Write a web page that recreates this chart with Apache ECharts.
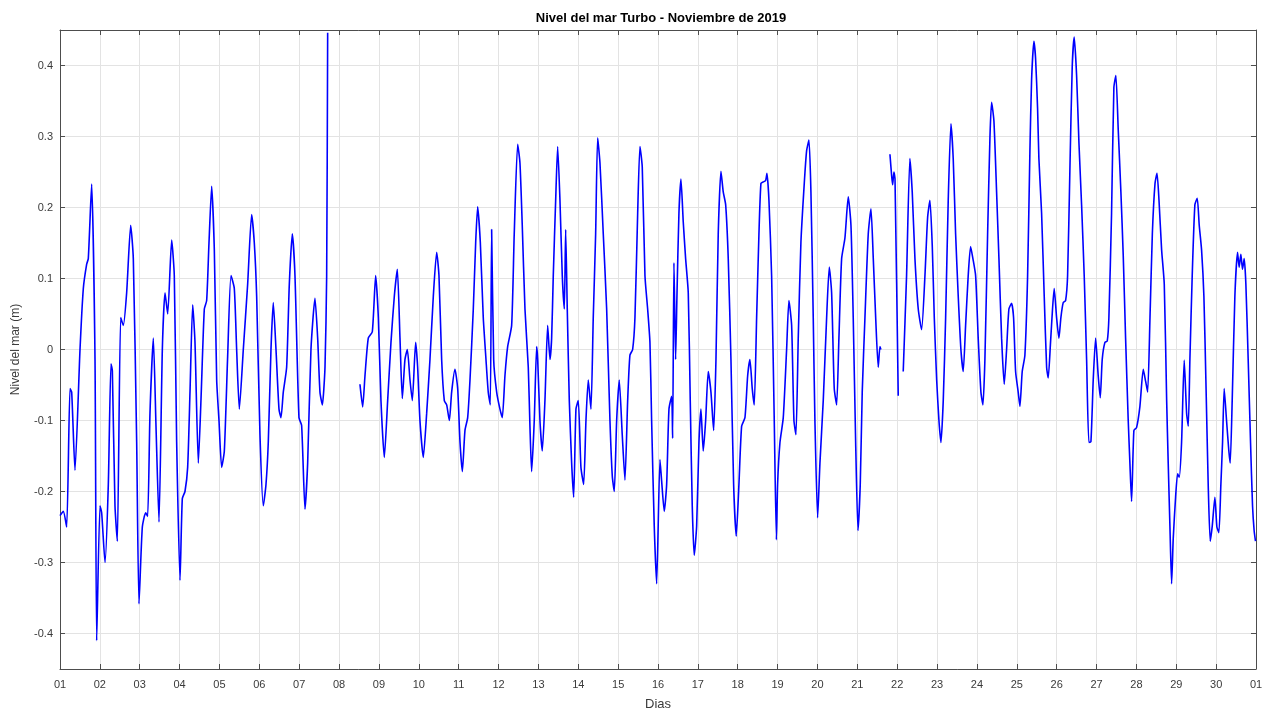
<!DOCTYPE html>
<html>
<head>
<meta charset="utf-8">
<title>Nivel del mar Turbo - Noviembre de 2019</title>
<script src="https://cdn.jsdelivr.net/npm/echarts@6/dist/echarts.min.js"></script>
<style>
  html, body { margin: 0; padding: 0; background: #ffffff; overflow: hidden; }
  #chart { width: 1271px; height: 716px; }
</style>
</head>
<body>
<div id="chart"></div>
<script>
// Day-of-month tick labels (the last tick is 1 December)
const dayLabels = ['01','02','03','04','05','06','07','08','09','10',
  '11','12','13','14','15','16','17','18','19','20',
  '21','22','23','24','25','26','27','28','29','30','01'];

// Time in days since the start of November (1.0 = 1 Nov 00:00); null level = no data
const dayTimes = [
  1.000,1.083,1.167,1.251,1.293,1.376,1.502,1.585,1.668,1.710,1.794,1.878,1.920,
  2.003,2.045,2.129,2.212,2.279,2.313,2.379,2.438,2.522,2.588,2.672,2.773,2.839,2.923,2.981,
  3.065,3.149,3.199,3.257,3.341,3.408,3.483,3.567,3.634,3.701,3.801,3.867,3.926,
  4.010,4.068,4.135,4.202,4.261,4.328,4.386,4.470,4.537,4.620,4.679,4.737,4.804,4.871,4.930,4.988,
  5.055,5.122,5.205,5.289,5.372,5.431,5.498,5.598,5.707,5.807,5.874,5.933,
  6.016,6.100,6.167,6.225,6.292,6.350,6.418,6.493,6.543,6.601,6.685,6.752,6.827,6.894,6.994,
  7.061,7.145,7.212,7.295,7.396,7.463,7.521,7.580,7.647,7.689,7.714,
  8.100,
  8.524,8.592,8.650,8.733,8.834,8.918,8.985,
  9.051,9.135,9.219,9.302,9.386,9.461,9.528,9.586,9.653,9.712,9.779,9.837,9.921,9.971,
  10.029,10.113,10.197,10.280,10.364,10.448,10.506,10.573,10.640,10.699,10.766,10.824,10.907,10.975,
  11.033,11.092,11.158,11.226,11.284,11.367,11.427,11.476,11.543,11.617,11.685,11.742,11.793,11.827,11.878,11.953,
  12.036,12.094,12.161,12.229,12.329,12.394,12.480,12.537,12.595,12.663,12.746,12.788,12.830,12.896,12.956,12.982,
  13.039,13.097,13.164,13.232,13.290,13.332,13.373,13.433,13.483,13.541,13.599,13.650,13.684,13.724,13.775,13.834,13.884,13.942,
  14.000,14.067,14.135,14.193,14.251,14.318,14.376,14.436,14.486,14.544,14.627,14.712,14.795,14.853,14.903,14.963,
  15.028,15.103,15.171,15.239,15.296,15.364,15.422,15.490,15.547,15.605,15.673,15.740,15.798,15.840,15.906,15.966,
  16.049,16.091,16.157,16.217,16.275,16.342,16.367,16.400,16.442,16.475,16.525,16.576,16.633,16.693,16.759,16.809,16.859,16.909,16.969,
  17.027,17.077,17.135,17.195,17.260,17.328,17.396,17.454,17.511,17.579,17.636,17.697,17.762,17.830,17.897,17.963,
  18.030,18.098,18.181,18.249,18.306,18.364,18.414,18.474,18.532,18.582,18.640,18.700,18.733,18.783,18.850,18.916,18.970,
  19.000,19.059,19.142,19.226,19.284,19.352,19.410,19.460,19.518,19.585,19.669,19.728,19.786,19.836,19.894,19.936,
  20.004,20.062,20.145,20.230,20.296,20.355,20.421,20.481,20.538,20.606,20.689,20.772,20.840,20.897,20.958,
  21.016,21.073,21.123,21.191,21.274,21.342,21.400,21.460,21.524,21.567,21.592,
  21.700,
  21.818,21.860,21.885,21.918,21.945,22.026,
  22.090,
  22.151,22.235,22.318,22.377,22.445,22.528,22.612,22.696,22.763,22.821,22.880,22.930,22.990,
  23.047,23.097,23.155,23.215,23.280,23.348,23.405,23.465,23.531,23.598,23.656,23.716,23.781,23.841,23.899,23.967,
  24.032,24.100,24.150,24.200,24.268,24.326,24.368,24.426,24.493,24.552,24.619,24.685,24.744,24.802,24.869,24.919,24.970,
  25.035,25.078,25.136,25.203,25.271,25.329,25.371,25.429,25.471,25.521,25.554,25.622,25.688,25.748,25.788,25.846,25.896,25.938,25.998,
  26.056,26.106,26.164,26.224,26.274,26.331,26.390,26.440,26.500,26.558,26.625,26.691,26.751,26.808,26.859,26.917,26.977,
  27.042,27.093,27.143,27.210,27.269,27.310,27.377,27.435,27.485,27.544,27.611,27.669,27.729,27.795,27.837,27.879,27.937,
  28.004,28.088,28.172,28.232,28.282,28.341,28.400,28.467,28.517,28.567,28.633,28.699,28.759,28.798,28.841,28.883,28.924,28.983,
  29.034,29.074,29.133,29.199,29.260,29.301,29.342,29.400,29.467,29.526,29.576,29.635,29.693,29.743,29.801,29.852,29.902,29.969,
  30.019,30.069,30.119,30.161,30.202,30.261,30.319,30.353,30.403,30.470,30.537,30.578,30.620,30.662,30.704,30.746,30.804,30.863,30.913,30.953,30.987
];

// Sea level (m)
const seaLevel = [
  -0.234,-0.228,-0.250,-0.055,-0.060,-0.170,0.000,0.086,0.120,0.128,0.233,-0.013,-0.410,
  -0.220,-0.230,-0.300,-0.190,-0.020,-0.030,-0.220,-0.270,0.045,0.034,0.080,0.175,0.128,-0.130,-0.358,
  -0.250,-0.230,-0.235,-0.090,0.016,-0.108,-0.243,0.000,0.080,0.050,0.154,0.104,-0.130,
  -0.325,-0.210,-0.200,-0.166,-0.060,0.063,0.010,-0.160,-0.070,0.057,0.069,0.150,0.230,0.140,-0.043,-0.100,
  -0.166,-0.143,-0.010,0.104,0.086,0.000,-0.084,0.000,0.092,0.190,0.150,0.075,
  -0.120,-0.220,-0.190,-0.130,0.000,0.066,0.000,-0.084,-0.096,-0.060,-0.025,0.092,0.163,0.104,-0.096,
  -0.107,-0.225,-0.160,0.000,0.072,0.016,-0.060,-0.078,-0.025,0.104,0.446,
  null,
  -0.049,-0.081,-0.037,0.016,0.025,0.104,0.045,
  -0.072,-0.152,-0.072,0.010,0.075,0.113,0.016,-0.069,-0.014,0.000,-0.043,-0.072,0.010,-0.025,
  -0.100,-0.152,-0.090,-0.014,0.075,0.137,0.104,-0.014,-0.072,-0.078,-0.100,-0.060,-0.028,-0.055,
  -0.130,-0.172,-0.114,-0.096,-0.043,0.057,0.151,0.201,0.151,0.045,-0.014,-0.060,-0.078,0.169,-0.014,-0.060,
  -0.084,-0.096,-0.037,0.004,0.034,0.163,0.289,0.263,0.175,0.057,-0.025,-0.108,-0.172,-0.100,0.004,-0.014,
  -0.100,-0.143,-0.072,0.034,-0.014,0.016,0.104,0.210,0.286,0.210,0.104,0.057,0.169,0.057,-0.072,-0.160,-0.208,-0.084,
  -0.072,-0.166,-0.190,-0.100,-0.043,-0.084,0.045,0.163,0.298,0.263,0.163,0.057,-0.100,-0.178,-0.200,-0.100,
  -0.043,-0.120,-0.184,-0.072,-0.008,0.000,0.045,0.192,0.286,0.257,0.104,0.057,0.010,-0.100,-0.249,-0.330,
  -0.155,-0.185,-0.228,-0.190,-0.084,-0.066,-0.125,0.122,-0.014,0.075,0.192,0.240,0.180,0.128,0.080,-0.072,-0.220,-0.290,-0.249,
  -0.131,-0.084,-0.143,-0.100,-0.031,-0.060,-0.114,-0.014,0.163,0.251,0.222,0.204,0.128,-0.014,-0.190,-0.263,
  -0.190,-0.108,-0.096,-0.037,-0.014,-0.055,-0.078,0.045,0.163,0.234,0.236,0.238,0.248,0.210,0.104,-0.100,-0.268,
  -0.190,-0.131,-0.096,0.000,0.069,0.034,-0.100,-0.120,0.016,0.151,0.234,0.280,0.295,0.222,0.045,-0.100,
  -0.237,-0.160,-0.072,0.045,0.116,0.080,-0.055,-0.078,0.016,0.128,0.157,0.215,0.175,0.045,-0.131,
  -0.255,-0.190,-0.060,0.045,0.163,0.198,0.128,0.045,-0.025,0.004,0.000,
  null,
  0.275,0.245,0.232,0.250,0.240,-0.065,
  null,
  -0.031,0.104,0.269,0.222,0.128,0.057,0.028,0.104,0.186,0.210,0.145,0.045,-0.043,
  -0.100,-0.131,-0.072,0.045,0.210,0.318,0.269,0.163,0.075,0.000,-0.031,0.034,0.104,0.145,0.128,0.104,
  0.016,-0.060,-0.078,-0.014,0.163,0.298,0.348,0.322,0.222,0.128,0.016,-0.049,0.000,0.057,0.065,0.045,-0.031,
  -0.060,-0.080,-0.031,-0.008,0.104,0.280,0.380,0.434,0.410,0.340,0.269,0.192,0.075,-0.025,-0.040,0.010,0.057,0.086,0.045,
  0.016,0.045,0.066,0.069,0.104,0.251,0.398,0.440,0.386,0.292,0.204,0.104,-0.014,-0.131,-0.130,-0.043,0.016,
  -0.037,-0.068,-0.014,0.010,0.012,0.045,0.192,0.369,0.386,0.310,0.222,0.134,0.016,-0.100,-0.160,-0.214,-0.114,
  -0.110,-0.080,-0.028,-0.045,-0.060,0.045,0.163,0.234,0.248,0.210,0.140,0.092,-0.072,-0.160,-0.249,-0.330,-0.266,-0.208,
  -0.175,-0.180,-0.131,-0.015,-0.090,-0.108,-0.014,0.104,0.204,0.213,0.175,0.140,0.075,-0.043,-0.190,-0.270,-0.249,-0.208,
  -0.250,-0.258,-0.190,-0.131,-0.055,-0.100,-0.143,-0.160,-0.072,0.075,0.137,0.116,0.134,0.113,0.128,0.092,-0.014,-0.131,-0.220,-0.255,-0.270
];

const FONT = '"Liberation Sans", Arial, Helvetica, sans-serif';
const AXIS_COLOR = '#4d4d4d';
const TEXT_COLOR = '#3a3a3a';
const GRID_COLOR = '#e3e3e3';

const levelData = dayTimes.map((t, i) => [t, seaLevel[i] === null ? '-' : seaLevel[i]]);

const chart = echarts.init(document.getElementById('chart'), null, { renderer: 'canvas', width: 1271, height: 716 });

const xCommon = {
  type: 'value', min: 1, max: 31, interval: 1,
  axisLine: { show: true, onZero: false, lineStyle: { color: AXIS_COLOR, width: 1 } },
  axisTick: { show: true, inside: true, length: 5, lineStyle: { color: AXIS_COLOR } }
};
const yCommon = {
  type: 'value', min: -0.45, max: 0.45, splitNumber: 9,
  axisLine: { show: true, onZero: false, lineStyle: { color: AXIS_COLOR, width: 1 } },
  axisTick: { show: true, inside: true, length: 5, lineStyle: { color: AXIS_COLOR } }
};

const yLabel = v => {
  if (Math.abs(v) > 0.441) return '';
  const r = Math.round(v * 10) / 10;
  return r === 0 ? '0' : r.toFixed(1);
};

chart.setOption({
  backgroundColor: '#ffffff',
  animation: false,
  title: {
    text: 'Nivel del mar Turbo - Noviembre de 2019',
    left: 656, top: 7, textAlign: 'center',
    textStyle: { fontFamily: FONT, fontSize: 13, fontWeight: 'bold', color: '#000000' }
  },
  grid: { left: 60, right: 15, top: 30, bottom: 43, containLabel: false },
  xAxis: [
    Object.assign({}, xCommon, {
      position: 'bottom',
      name: 'Dias', nameLocation: 'middle', nameGap: 29,
      nameTextStyle: { fontFamily: FONT, fontSize: 13, color: TEXT_COLOR },
      axisLabel: {
        fontFamily: FONT, fontSize: 11, color: TEXT_COLOR, margin: 10,
        formatter: v => dayLabels[Math.round(v) - 1]
      },
      splitLine: { show: true, lineStyle: { color: GRID_COLOR, width: 1 } }
    }),
    Object.assign({}, xCommon, {
      position: 'top',
      axisLabel: { show: false },
      splitLine: { show: false }
    })
  ],
  yAxis: [
    Object.assign({}, yCommon, {
      position: 'left',
      name: 'Nivel del mar (m)', nameLocation: 'middle', nameGap: 38, nameRotate: 90,
      nameTextStyle: { fontFamily: FONT, fontSize: 12, color: TEXT_COLOR },
      axisLabel: { fontFamily: FONT, fontSize: 11, color: TEXT_COLOR, margin: 7, formatter: yLabel },
      splitLine: { show: true, lineStyle: { color: GRID_COLOR, width: 1 } }
    }),
    Object.assign({}, yCommon, {
      position: 'right',
      axisLabel: { show: false },
      splitLine: { show: false }
    })
  ],
  series: [{
    type: 'line',
    xAxisIndex: 0, yAxisIndex: 0,
    data: levelData,
    showSymbol: false,
    connectNulls: false,
    smooth: 0.2,
    clip: true,
    lineStyle: { color: '#0000ff', width: 1.6 },
    z: 5
  }]
});
</script>
</body>
</html>
